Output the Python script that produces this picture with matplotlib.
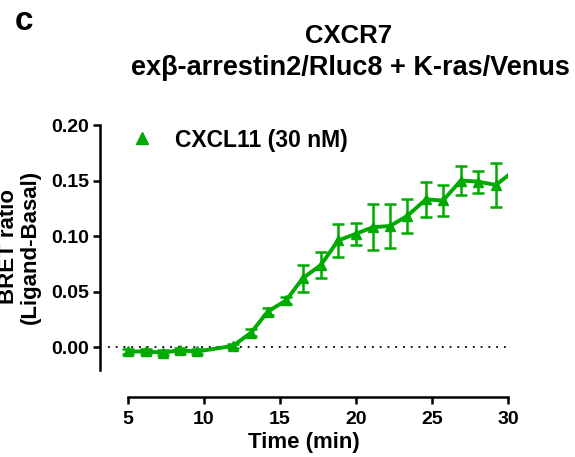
import matplotlib
matplotlib.use("Agg")
import matplotlib.pyplot as plt
from matplotlib.lines import Line2D
import numpy as np

plt.rcParams['font.family'] = ['Liberation Sans', 'DejaVu Sans']
plt.rcParams['font.weight'] = 'bold'

time_min = [5.0, 6.18, 7.30, 8.42, 9.54, 11.9, 13.1, 14.2, 15.4, 16.5,
            17.7, 18.82, 20.0, 21.12, 22.24, 23.36, 24.6, 25.72, 26.9, 28.03, 29.2, 30.33]
bret = [-0.004, -0.004, -0.005, -0.003, -0.004, 0.001, 0.013, 0.032, 0.042, 0.062,
        0.074, 0.096, 0.102, 0.108, 0.109, 0.118, 0.133, 0.132, 0.150, 0.149, 0.146, 0.158]
sem = [0.002, 0.002, 0.002, 0.002, 0.002, 0.002, 0.003, 0.003, 0.003, 0.012,
       0.012, 0.015, 0.010, 0.021, 0.020, 0.015, 0.016, 0.014, 0.013, 0.010, 0.020, 0.015]
legend_label = "CXCL11 (30 nM)"
xticks = [5, 10, 15, 20, 25, 30]
yticks = [0.00, 0.05, 0.10, 0.15, 0.20]

green = '#00AA00'
W, H = 575, 457

fig = plt.figure(figsize=(5.75, 4.57), dpi=100)
ax = fig.add_axes([100/W, 60/H, 408/W, 272/H])

t = np.array(time_min)
y = np.array(bret)
e = np.array(sem)
inside = t <= 30

ax.plot(t, y, color=green, lw=2.8, zorder=3)
ax.errorbar(t[inside], y[inside], yerr=e[inside], fmt='none', ecolor=green,
            elinewidth=1.8, capsize=4, capthick=1.8, zorder=3, clip_on=False)
ax.plot(t[inside], y[inside], linestyle='none', marker='^', markersize=7.5,
        color=green, zorder=4, clip_on=False)

ax.axhline(0, xmin=0.02, xmax=1.0, color='black', lw=1.3, linestyle=(0, (1, 3.3)), zorder=1)

ax.set_xlim(5 - 28/15.2, 30)
ax.set_ylim(-0.045, 0.20)
ax.spines['top'].set_visible(False)
ax.spines['right'].set_visible(False)
ax.spines['left'].set_bounds(-0.021, 0.20)
ax.spines['bottom'].set_bounds(5, 30)
for s in ('left', 'bottom'):
    ax.spines[s].set_linewidth(1.8)
ax.set_xticks(xticks)
ax.set_xticklabels([str(v) for v in xticks])
ax.set_yticks(yticks)
ax.set_yticklabels([f"{v:.2f}" for v in yticks])
ax.tick_params(direction='out', length=5, width=1.8, labelsize=14)
ax.tick_params(axis='x', pad=5)
ax.tick_params(axis='y', pad=3)
for lab in ax.get_xticklabels() + ax.get_yticklabels():
    lab.set_fontweight('bold')

ax.set_xlabel("Time (min)", fontsize=16, fontweight='bold', labelpad=3)

fig.text(19/W, 1 - 247/H, "BRET ratio\n(Ligand-Basal)", rotation=90,
         ha='center', va='center', fontsize=16, fontweight='bold', linespacing=1.05)

handle = Line2D([], [], linestyle='none', marker='^', markersize=8, color=green)
ax.legend([handle], [legend_label], loc='center left', bbox_to_anchor=(131/W, 1 - 140/H),
          bbox_transform=fig.transFigure, frameon=False, borderpad=0, borderaxespad=0,
          handlelength=1.0, handletextpad=0.9, prop={'weight': 'bold', 'size': 16.5})

fig.text(349/W, 1 - 43/H, "CXCR7", ha='center', va='baseline', fontsize=18.5, fontweight='bold')
fig.text(350/W, 1 - 75/H, "ex\u03b2-arrestin2/Rluc8 + K-ras/Venus", ha='center', va='baseline',
         fontsize=19.5, fontweight='bold')
fig.text(24/W, 1 - 30/H, "c", ha='center', va='baseline', fontsize=24, fontweight='bold')

fig.savefig("out.png", dpi=100)
